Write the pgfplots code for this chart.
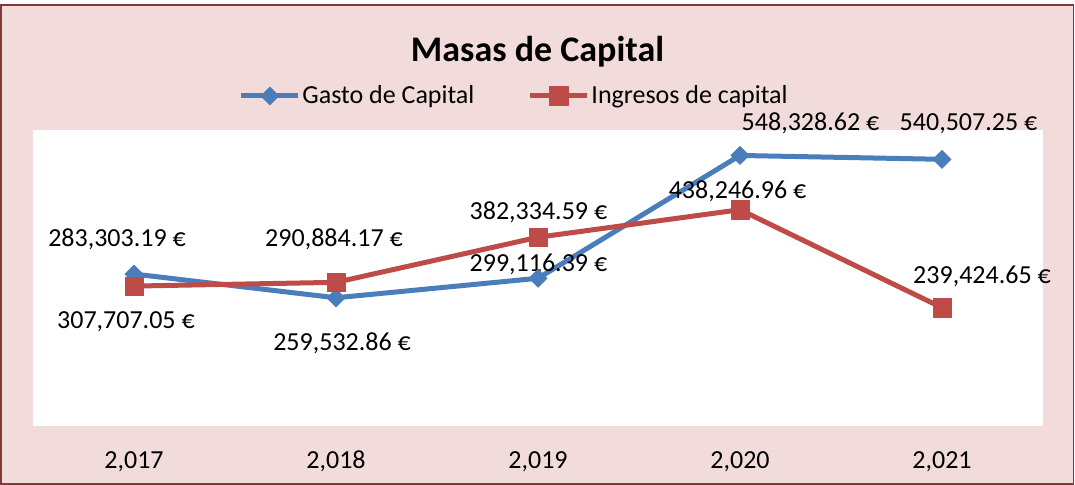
\documentclass[border=0pt]{standalone}
\usepackage{fontspec}
\setmainfont{Carlito}
\usepackage{pgfplots}
\pgfplotsset{compat=1.18}
\definecolor{bgpink}{HTML}{F2DCDB}
\definecolor{framec}{HTML}{7F3A3A}
\definecolor{bluel}{HTML}{4A7EBB}
\definecolor{redl}{HTML}{BE4B48}
\begin{document}
\begin{tikzpicture}
\path[use as bounding box] (-16.5pt,-29.65pt) rectangle (521pt,212.85pt);
\fill[bgpink] (-16pt,-29.15pt) rectangle (520.25pt,210.35pt);
\draw[framec, line width=0.9pt] (-16pt,-29.15pt) rectangle (520.25pt,210.35pt);
\begin{axis}[
  at={(0pt,0pt)}, anchor=south west,
  scale only axis, width=505pt, height=147.85pt,
  xmin=-0.5, xmax=4.5, ymin=0, ymax=600000,
  axis background/.style={fill=white},
  axis line style={draw=none},
  tick style={draw=none},
  ytick=\empty,
  xtick={0,1,2,3,4},
  xticklabels={{2,017},{2,018},{2,019},{2,020},{2,021}},
  xticklabel style={anchor=base, yshift=-21.3pt, font=\fontsize{13}{15}\selectfont},
  clip=false,
  legend columns=2,
  legend style={at={(rel axis cs:0.2035,1.115)}, anchor=west, draw=none, fill=none,
    font=\fontsize{13}{15}\selectfont, inner sep=0pt,
    nodes={inner sep=0.75pt},
    /tikz/every even column/.append style={column sep=26pt}},
  legend image code/.code={\draw[mark repeat=2,mark phase=2,#1] plot coordinates {(0pt,0pt) (14.25pt,0pt) (28.5pt,0pt)};},
]
\addplot[bluel, line width=2.5pt, line join=round, mark=square*,
  mark options={rotate=45, solid, line width=0.3pt, fill=bluel, mark size=3.2pt}]
  coordinates {(0,307707.05) (1,259532.86) (2,299116.39) (3,548328.62) (4,540507.25)};
\addlegendentry{Gasto de Capital}
\addplot[redl, line width=2.5pt, line join=round, mark=square*,
  mark options={solid, line width=0.3pt, fill=redl, mark size=4.6pt}]
  coordinates {(0,283303.19) (1,290884.17) (2,382334.59) (3,438246.96) (4,239424.65)};
\addlegendentry{Ingresos de capital}
\tikzset{lab/.style={anchor=base, inner sep=0pt, font=\fontsize{13}{15}\selectfont}}
\node[lab] at (axis cs:-0.084,363200) {283,303.19 €};
\node[lab] at (axis cs:-0.040,197630) {307,707.05 €};
\node[lab] at (axis cs:0.990,363200) {290,884.17 €};
\node[lab] at (axis cs:1.030,152180) {259,532.86 €};
\node[lab] at (axis cs:2.002,417380) {382,334.59 €};
\node[lab] at (axis cs:2.002,312470) {299,116.39 €};
\node[lab] at (axis cs:2.988,460000) {438,246.96 €};
\node[lab] at (axis cs:3.349,598570) {548,328.62 €};
\node[lab] at (axis cs:4.131,598570) {540,507.25 €};
\node[lab] at (axis cs:4.198,287520) {239,424.65 €};
\node[anchor=base, inner sep=0pt, font=\fontsize{18}{22}\selectfont\bfseries] at (rel axis cs:0.4995,1.231) {Masas de Capital};
\end{axis}
\end{tikzpicture}
\end{document}
